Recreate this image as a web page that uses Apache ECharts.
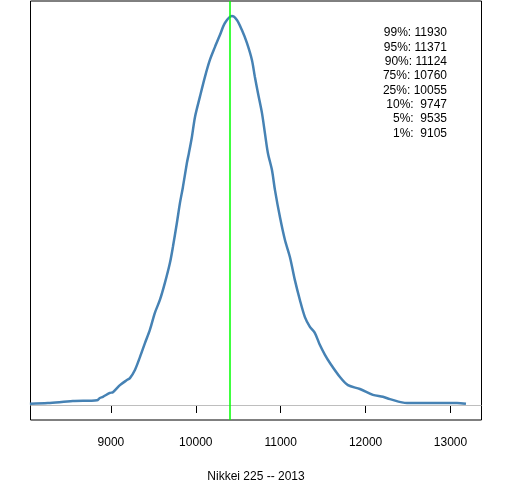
<!DOCTYPE html>
<html>
<head>
<meta charset="utf-8">
<script src="https://cdn.jsdelivr.net/npm/echarts@6/dist/echarts.min.js"></script>
<style>
  html, body { margin: 0; padding: 0; background: #fff; }
  #chart { width: 512px; height: 480px; }
</style>
</head>
<body>
<div id="chart"></div>
<script>
// density of simulated year-end values (relative height, peak = 1)
var densityX = [8046, 8258, 8552, 8753, 8835, 8870, 8906, 8988, 9024, 9106, 9188, 9224, 9283, 9342, 9401,
  9459, 9518, 9577, 9636, 9695, 9730, 9777, 9813, 9848, 9895, 9919, 9954, 9990, 10048, 10107,
  10166, 10225, 10284, 10343, 10425, 10484, 10543, 10602, 10661, 10696, 10732, 10779, 10814, 10849,
  10897, 10932, 10991, 11050, 11109, 11167, 11226, 11285, 11344, 11403, 11462, 11521, 11580, 11698,
  11792, 11933, 12086, 12204, 12287, 12487, 12722, 13076, 13182];
var densityY = [0.003, 0.005, 0.010, 0.011, 0.012, 0.018, 0.021, 0.031, 0.033, 0.051, 0.064, 0.069, 0.090, 0.123, 0.159,
  0.193, 0.237, 0.270, 0.314, 0.365, 0.406, 0.468, 0.519, 0.560, 0.622, 0.648, 0.689, 0.740, 0.792, 0.843,
  0.887, 0.920, 0.951, 0.982, 1.000, 0.990, 0.964, 0.931, 0.887, 0.843, 0.802, 0.751, 0.699, 0.648,
  0.604, 0.553, 0.483, 0.424, 0.380, 0.321, 0.270, 0.226, 0.201, 0.185, 0.154, 0.129, 0.108, 0.072,
  0.051, 0.041, 0.026, 0.021, 0.015, 0.005, 0.005, 0.005, 0.003];

var startValue = 10400;   // green line
var xTicks = [9000, 10000, 11000, 12000, 13000];

var quantileLabels = ['99%', '95%', '90%', '75%', '25%', '10%', '5%', '1%'];
var quantileValues = [11930, 11371, 11124, 10760, 10055, 9747, 9535, 9105];

var chart = echarts.init(document.getElementById('chart'), null, { renderer: 'canvas' });

var points = densityX.map(function (x, i) { return [x, densityY[i]]; });

var quantText = quantileLabels.map(function (q, i) {
  return q + ': ' + String(quantileValues[i]).padStart(5, ' ');
}).join('\n');

var option = {
  animation: false,
  backgroundColor: '#fff',
  textStyle: { fontFamily: 'Liberation Sans' },
  grid: {
    left: 30.5, right: 30.5, top: 1, bottom: 60,
    outerBoundsMode: 'none',
    containLabel: false,
    show: true, borderColor: '#000', borderWidth: 1
  },
  xAxis: {
    type: 'value',
    min: 8053,
    max: 13365,
    name: 'Nikkei 225 -- 2013',
    nameLocation: 'middle',
    nameGap: 51,
    nameTextStyle: { color: '#000', fontSize: 12, fontFamily: 'Liberation Sans' },
    axisLine: { show: true, lineStyle: { color: '#000', width: 1 } },
    axisTick: { show: true, length: 8, lineStyle: { color: '#000' }, customValues: xTicks },
    axisLabel: {
      color: '#000', fontSize: 12, margin: 17, customValues: xTicks, fontFamily: 'Liberation Sans',
      formatter: function (v) { return String(v); }
    },
    splitLine: { show: false }
  },
  yAxis: {
    type: 'value',
    min: -0.0386,
    max: 1.0386,
    show: false,
    splitLine: { show: false }
  },
  graphic: [{
    type: 'text',
    right: 65,
    top: 26,
    style: {
      text: quantText,
      fill: '#000',
      font: '12px "Liberation Sans"',
      textAlign: 'right',
      lineHeight: 14.3
    }
  }],
  series: [{
    type: 'line',
    data: points,
    smooth: 0.3,
    showSymbol: false,
    lineStyle: { color: '#4682b4', width: 2.5 },
    markLine: {
      silent: true,
      symbol: 'none',
      label: { show: false },
      data: [
        { yAxis: 0, lineStyle: { color: '#bebebe', width: 1, type: 'solid' } },
        { xAxis: startValue, lineStyle: { color: '#00ff00', width: 1.5, type: 'solid' } }
      ]
    }
  }]
};

chart.setOption(option);
</script>
</body>
</html>
